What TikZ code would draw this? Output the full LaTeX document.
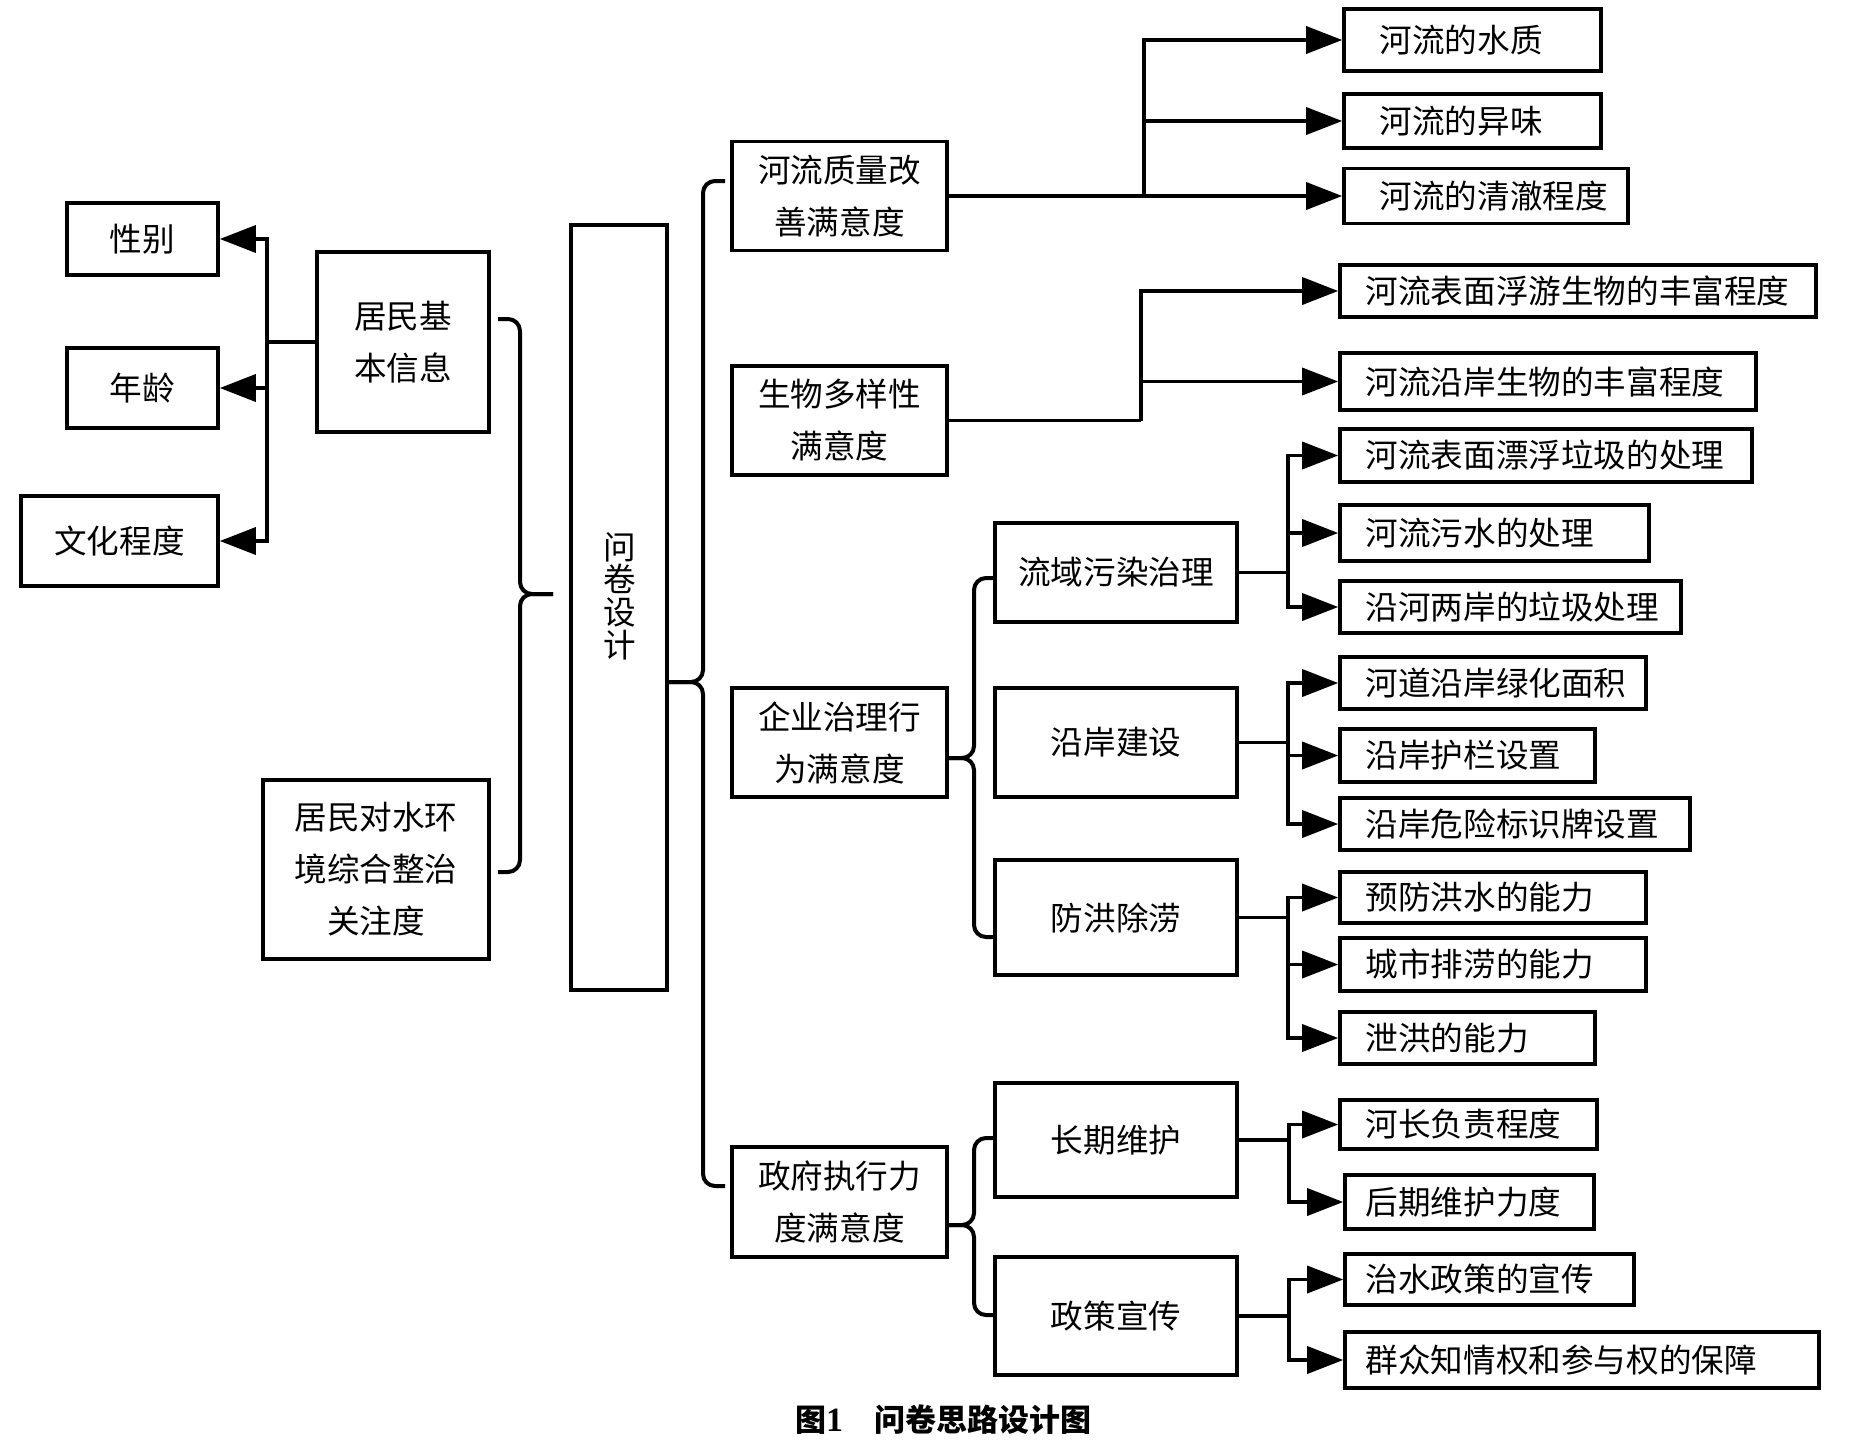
\documentclass[tikz,border=0pt]{standalone}
\usepackage{fontspec}
\setmainfont{Noto Sans CJK SC}
\newfontfamily\latf{Liberation Serif}
\usetikzlibrary{arrows.meta}
\newcommand{\mkleaf}[7]{%
  \node[lf, minimum width=#4pt, minimum height=#5pt] (#1) at (#2,#3) {};
  \node[lt, anchor=west] (#1t) at ([xshift=#6pt]#1.west) {#7};}
\begin{document}
\begin{tikzpicture}[x=0.5pt,y=-0.5pt,
  bx/.style={draw, line width=1.8pt, inner sep=0pt, align=center,
    font=\fontsize{16.3pt}{26pt}\selectfont},
  lf/.style={draw, line width=1.8pt, inner sep=0pt},
  lt/.style={inner sep=0pt, font=\fontsize{16.3pt}{20pt}\selectfont},
  vt/.style={inner sep=0pt, align=center, font=\fontsize{16.3pt}{16.3pt}\selectfont},
  ln/.style={line width=1.8pt},
  arr/.style={line width=1.8pt, -{Triangle[length=18pt,width=13.5pt]}},
  br/.style={line width=2pt, rounded corners=6pt}]
\fill[white] (0,0) rectangle (1856,1440);
\useasboundingbox (0,0) rectangle (1856,1440);

% left column
\node[bx, minimum width=75.5pt, minimum height=36pt] (xb) at (142.5,239) {性别};
\node[bx, minimum width=75.5pt, minimum height=40pt] (nl) at (142.5,388) {年龄};
\node[bx, minimum width=98.5pt, minimum height=45pt] (wh) at (119.5,541) {文化程度};
\node[bx, minimum width=86pt, minimum height=90pt] (jm) at (403,342) {居民基\\本信息};
\node[bx, minimum width=113pt, minimum height=89.5pt] (gz) at (376,869.5) {居民对水环\\境综合整治\\关注度};
\node[bx, minimum width=48pt, minimum height=382.5pt] (wj) at (619,607.5) {};
\node[vt] (wjt) at (620,596) {问\\卷\\设\\计};

% middle column
\node[bx, minimum width=107.5pt, minimum height=54.5pt] (m1) at (839.5,196) {河流质量改\\善满意度};
\node[bx, minimum width=107.5pt, minimum height=54.5pt] (m2) at (839.5,420.5) {生物多样性\\满意度};
\node[bx, minimum width=107.5pt, minimum height=54.5pt] (m3) at (839.5,742.5) {企业治理行\\为满意度};
\node[bx, minimum width=107.5pt, minimum height=55pt] (m4) at (839.5,1202) {政府执行力\\度满意度};

% third column
\node[bx, minimum width=121pt, minimum height=49.5pt] (c1) at (1116,572.5) {流域污染治理};
\node[bx, minimum width=121pt, minimum height=54.5pt] (c2) at (1116,742.5) {沿岸建设};
\node[bx, minimum width=121pt, minimum height=57.5pt] (c3) at (1116,917.5) {防洪除涝};
\node[bx, minimum width=121pt, minimum height=57pt] (c4) at (1116,1140) {长期维护};
\node[bx, minimum width=121pt, minimum height=59pt] (c5) at (1116,1316) {政策宣传};

% leaves
\mkleaf{l1}{1472.5}{40}{128.5}{31}{18.5}{河流的水质}
\mkleaf{l2}{1472.5}{121}{128.5}{27}{18.5}{河流的异味}
\mkleaf{l3}{1486}{196}{142}{27.5}{18.5}{河流的清澈程度}
\mkleaf{l4}{1578}{291}{238}{26}{13.5}{河流表面浮游生物的丰富程度}
\mkleaf{l5}{1548}{381.5}{208}{28.5}{13.5}{河流沿岸生物的丰富程度}
\mkleaf{l6}{1546}{455.5}{206}{26.5}{13.5}{河流表面漂浮垃圾的处理}
\mkleaf{l7}{1494.5}{533}{154.5}{28}{13.5}{河流污水的处理}
\mkleaf{l8}{1510.5}{607}{170.5}{26}{13.5}{沿河两岸的垃圾处理}
\mkleaf{l9}{1493}{683}{153}{26}{13.5}{河道沿岸绿化面积}
\mkleaf{l10}{1467.5}{755.5}{127.5}{26.5}{13.5}{沿岸护栏设置}
\mkleaf{l11}{1515}{824}{175}{26}{13.5}{沿岸危险标识牌设置}
\mkleaf{l12}{1493}{897.5}{153}{25.5}{13.5}{预防洪水的能力}
\mkleaf{l13}{1493}{964.5}{153}{26.5}{13.5}{城市排涝的能力}
\mkleaf{l14}{1467.5}{1038}{127.5}{26}{13.5}{泄洪的能力}
\mkleaf{l15}{1468.5}{1124.5}{128.5}{24.5}{13.5}{河长负责程度}
\mkleaf{l16}{1469.5}{1202}{124.5}{27}{11}{后期维护力度}
\mkleaf{l17}{1489.5}{1279.5}{144.5}{25.5}{11}{治水政策的宣传}
\mkleaf{l18}{1582}{1360}{237}{28}{11}{群众知情权和参与权的保障}

% caption
\node[inner sep=0pt, font=\fontsize{15.5pt}{18pt}\selectfont\bfseries] (cap) at (943,1420) {图{\latf\fontsize{17pt}{18pt}\selectfont 1}\hspace{1em}问卷思路设计图};

% left connectors
\coordinate (b0) at (267,342);
\draw[ln] (jm.west) -- (b0);
\draw[arr] (b0) |- (xb.east);
\draw[arr] (b0) |- (nl.east);
\draw[arr] (b0) |- (wh.east);

% right connectors
\coordinate (b1) at (1144,196);
\draw[arr] (m1.east) -- (l3.west);
\draw[arr] (b1) |- (l1.west);
\draw[arr] (b1) |- (l2.west);

\coordinate (b2) at (1141,420.5);
\draw[ln] (m2.east) -- (b2);
\draw[arr] (b2) |- (l4.west);
\draw[arr] (b2) |- (l5.west);

\coordinate (b3) at (1288,572.5);
\draw[ln] (c1.east) -- (b3);
\draw[arr] (b3) |- (l6.west);
\draw[arr] (b3) |- (l7.west);
\draw[arr] (b3) |- (l8.west);

\coordinate (b4) at (1288,742.5);
\draw[ln] (c2.east) -- (b4);
\draw[arr] (b4) |- (l9.west);
\draw[arr] (b4) |- (l10.west);
\draw[arr] (b4) |- (l11.west);

\coordinate (b5) at (1288,917.5);
\draw[ln] (c3.east) -- (b5);
\draw[arr] (b5) |- (l12.west);
\draw[arr] (b5) |- (l13.west);
\draw[arr] (b5) |- (l14.west);

\coordinate (b6) at (1289,1140);
\draw[ln] (c4.east) -- (b6);
\draw[arr] (b6) |- (l15.west);
\draw[arr] (b6) |- (l16.west);

\coordinate (b7) at (1289,1316);
\draw[ln] (c5.east) -- (b7);
\draw[arr] (b7) |- (l17.west);
\draw[arr] (b7) |- (l18.west);

% braces
\coordinate (r1a) at (498,319); \coordinate (r1t) at (553,594); \coordinate (r1b) at (498,872);
\draw[br] (r1a) -- (520,319) -- (520,594) -- (r1t);
\draw[br] (r1t) -- (520,594) -- (520,872) -- (r1b);

\coordinate (r2a) at (725,181); \coordinate (r2t) at (668,682); \coordinate (r2b) at (725,1186);
\draw[br] (r2a) -- (703,181) -- (703,682) -- (r2t);
\draw[br] (r2t) -- (703,682) -- (703,1186) -- (r2b);

\coordinate (r3a) at (995,578); \coordinate (r3t) at (945,758); \coordinate (r3b) at (995,937);
\draw[br] (r3a) -- (974,578) -- (974,758) -- (r3t);
\draw[br] (r3t) -- (974,758) -- (974,937) -- (r3b);

\coordinate (r4a) at (995,1138); \coordinate (r4t) at (945,1225); \coordinate (r4b) at (995,1315);
\draw[br] (r4a) -- (974,1138) -- (974,1225) -- (r4t);
\draw[br] (r4t) -- (974,1225) -- (974,1315) -- (r4b);
\end{tikzpicture}
\end{document}
